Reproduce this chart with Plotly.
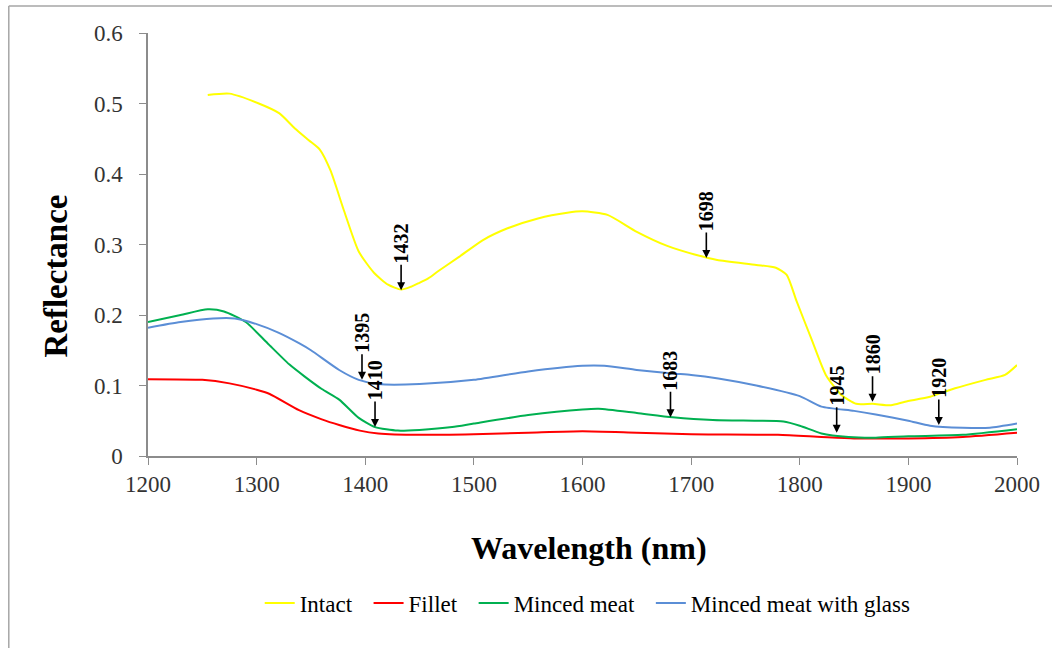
import plotly.graph_objects as go

# ---------------- data ----------------
intact_wl = [1255, 1275, 1302, 1321, 1335, 1348, 1358, 1368, 1380, 1394, 1408, 1421, 1433,
             1442, 1449, 1458, 1467, 1486, 1508, 1531, 1559, 1586, 1600, 1623, 1650, 1678,
             1705, 1724, 1760, 1778, 1788, 1797, 1811, 1824, 1838, 1852, 1867, 1884, 1897,
             1920, 1943, 1971, 1989, 2000]
intact_r = [0.512, 0.514, 0.500, 0.486, 0.465, 0.448, 0.435, 0.405, 0.350, 0.290, 0.260, 0.243,
            0.236, 0.240, 0.245, 0.252, 0.262, 0.282, 0.306, 0.323, 0.337, 0.345, 0.347, 0.342,
            0.318, 0.298, 0.285, 0.278, 0.271, 0.267, 0.257, 0.220, 0.165, 0.115, 0.087, 0.074,
            0.074, 0.072, 0.077, 0.084, 0.096, 0.108, 0.115, 0.129]

fillet_wl = [1200, 1250, 1275, 1300, 1312, 1339, 1360, 1376, 1395, 1412, 1450, 1500, 1550,
             1600, 1650, 1700, 1780, 1820, 1850, 1900, 1950, 2000]
fillet_r = [0.109, 0.108, 0.103, 0.094, 0.088, 0.065, 0.052, 0.044, 0.036, 0.032, 0.030, 0.031,
            0.033, 0.035, 0.033, 0.031, 0.030, 0.027, 0.025, 0.025, 0.027, 0.033]

minced_wl = [1200, 1230, 1255, 1270, 1290, 1310, 1330, 1344, 1360, 1376, 1394, 1409, 1430,
             1450, 1480, 1500, 1550, 1600, 1615, 1650, 1683, 1720, 1760, 1785, 1800, 1820,
             1845, 1870, 1900, 1950, 2000]
minced_r = [0.190, 0.200, 0.208, 0.205, 0.190, 0.160, 0.130, 0.113, 0.095, 0.080, 0.054, 0.041,
            0.036, 0.037, 0.041, 0.046, 0.058, 0.066, 0.067, 0.061, 0.055, 0.051, 0.050, 0.049,
            0.043, 0.032, 0.027, 0.026, 0.028, 0.030, 0.038]

glass_wl = [1200, 1230, 1260, 1280, 1300, 1320, 1339, 1350, 1376, 1394, 1412, 1450, 1500,
            1550, 1600, 1620, 1650, 1683, 1700, 1725, 1760, 1800, 1820, 1850, 1870, 1900,
            1920, 1950, 1975, 2000]
glass_r = [0.182, 0.190, 0.195, 0.195, 0.187, 0.175, 0.160, 0.150, 0.122, 0.108, 0.102, 0.102,
           0.108, 0.120, 0.128, 0.128, 0.122, 0.117, 0.115, 0.110, 0.100, 0.085, 0.070, 0.064,
           0.059, 0.050, 0.043, 0.040, 0.040, 0.046]

# band annotations: label, arrow-tip wavelength, arrow-tip reflectance
band_labels = ["1432", "1395", "1410", "1698", "1683", "1945", "1860", "1920"]
band_x = [1433, 1397, 1409, 1714, 1681, 1834, 1867, 1928]
band_y = [0.235, 0.108, 0.041, 0.281, 0.055, 0.033, 0.077, 0.044]

series_names = ["Intact", "Fillet", "Minced meat", "Minced meat with glass"]
series_x = [intact_wl, fillet_wl, minced_wl, glass_wl]
series_y = [intact_r, fillet_r, minced_r, glass_r]
series_colors = ["#FFFF00", "#FF0000", "#00B050", "#5B8ED6"]

FONT = "Liberation Serif"

fig = go.Figure()
for i, (name, xs, ys, col) in enumerate(zip(series_names, series_x, series_y, series_colors)):
    pad = "&nbsp;&nbsp;" if i < len(series_names) - 1 else ""
    fig.add_trace(go.Scatter(x=xs, y=ys, mode="lines", name=name + pad,
                             line=dict(color=col, width=2, shape="spline", smoothing=0.6)))

annotations = []
for lab, bx, by in zip(band_labels, band_x, band_y):
    annotations.append(dict(
        x=bx, y=by, xref="x", yref="y", text="<b>%s</b>" % lab,
        textangle=-90, showarrow=True, arrowhead=2, arrowsize=1, arrowwidth=1.6,
        arrowcolor="black", ax=0, ay=-47,
        font=dict(family=FONT, size=20, color="black")))

annotations.append(dict(
    x=0.507, y=-0.2175, xref="paper", yref="paper", showarrow=False,
    text="<b>Wavelength (nm)</b>", font=dict(family=FONT, size=32, color="black"),
    xanchor="center", yanchor="middle"))
annotations.append(dict(
    x=-0.1064, y=0.4255, xref="paper", yref="paper", showarrow=False,
    text="<b>Reflectance</b>", textangle=-90,
    font=dict(family=FONT, size=33, color="black"),
    xanchor="center", yanchor="middle"))

shapes = [
    dict(type="line", xref="paper", yref="paper", x0=-0.1602, x1=1.2, y0=1.0638, y1=1.0638,
         line=dict(color="#A6A6A6", width=1.5)),
    dict(type="line", xref="paper", yref="paper", x0=-0.1602, x1=-0.1602, y0=1.0638, y1=-0.6,
         line=dict(color="#A6A6A6", width=1.5)),
]

fig.update_layout(
    width=1052, height=648,
    margin=dict(l=148, r=30, t=33, b=192),
    paper_bgcolor="white", plot_bgcolor="white",
    font=dict(family=FONT, color="#333333"),
    annotations=annotations, shapes=shapes,
    showlegend=True,
    legend=dict(orientation="h", x=0.506, y=-0.3475, xanchor="center", yanchor="middle",
                font=dict(family=FONT, size=23, color="black"),
                itemwidth=30, tracegroupgap=0),
)
fig.update_xaxes(range=[1200, 2000], dtick=100, tick0=1200, showgrid=False, zeroline=False,
                 showline=True, linecolor="#8C8C8C", linewidth=1.5,
                 ticks="outside", ticklen=7, tickcolor="#8C8C8C", tickwidth=1,
                 tickfont=dict(family=FONT, size=23, color="#333333"))
fig.update_yaxes(range=[0, 0.6], dtick=0.1, tick0=0, showgrid=False, zeroline=False,
                 showline=True, linecolor="#8C8C8C", linewidth=1.5,
                 ticks="outside", ticklen=7, tickcolor="#8C8C8C", tickwidth=1,
                 ticklabelstandoff=12,
                 tickfont=dict(family=FONT, size=23, color="#333333"))

fig.write_html("out.html")
